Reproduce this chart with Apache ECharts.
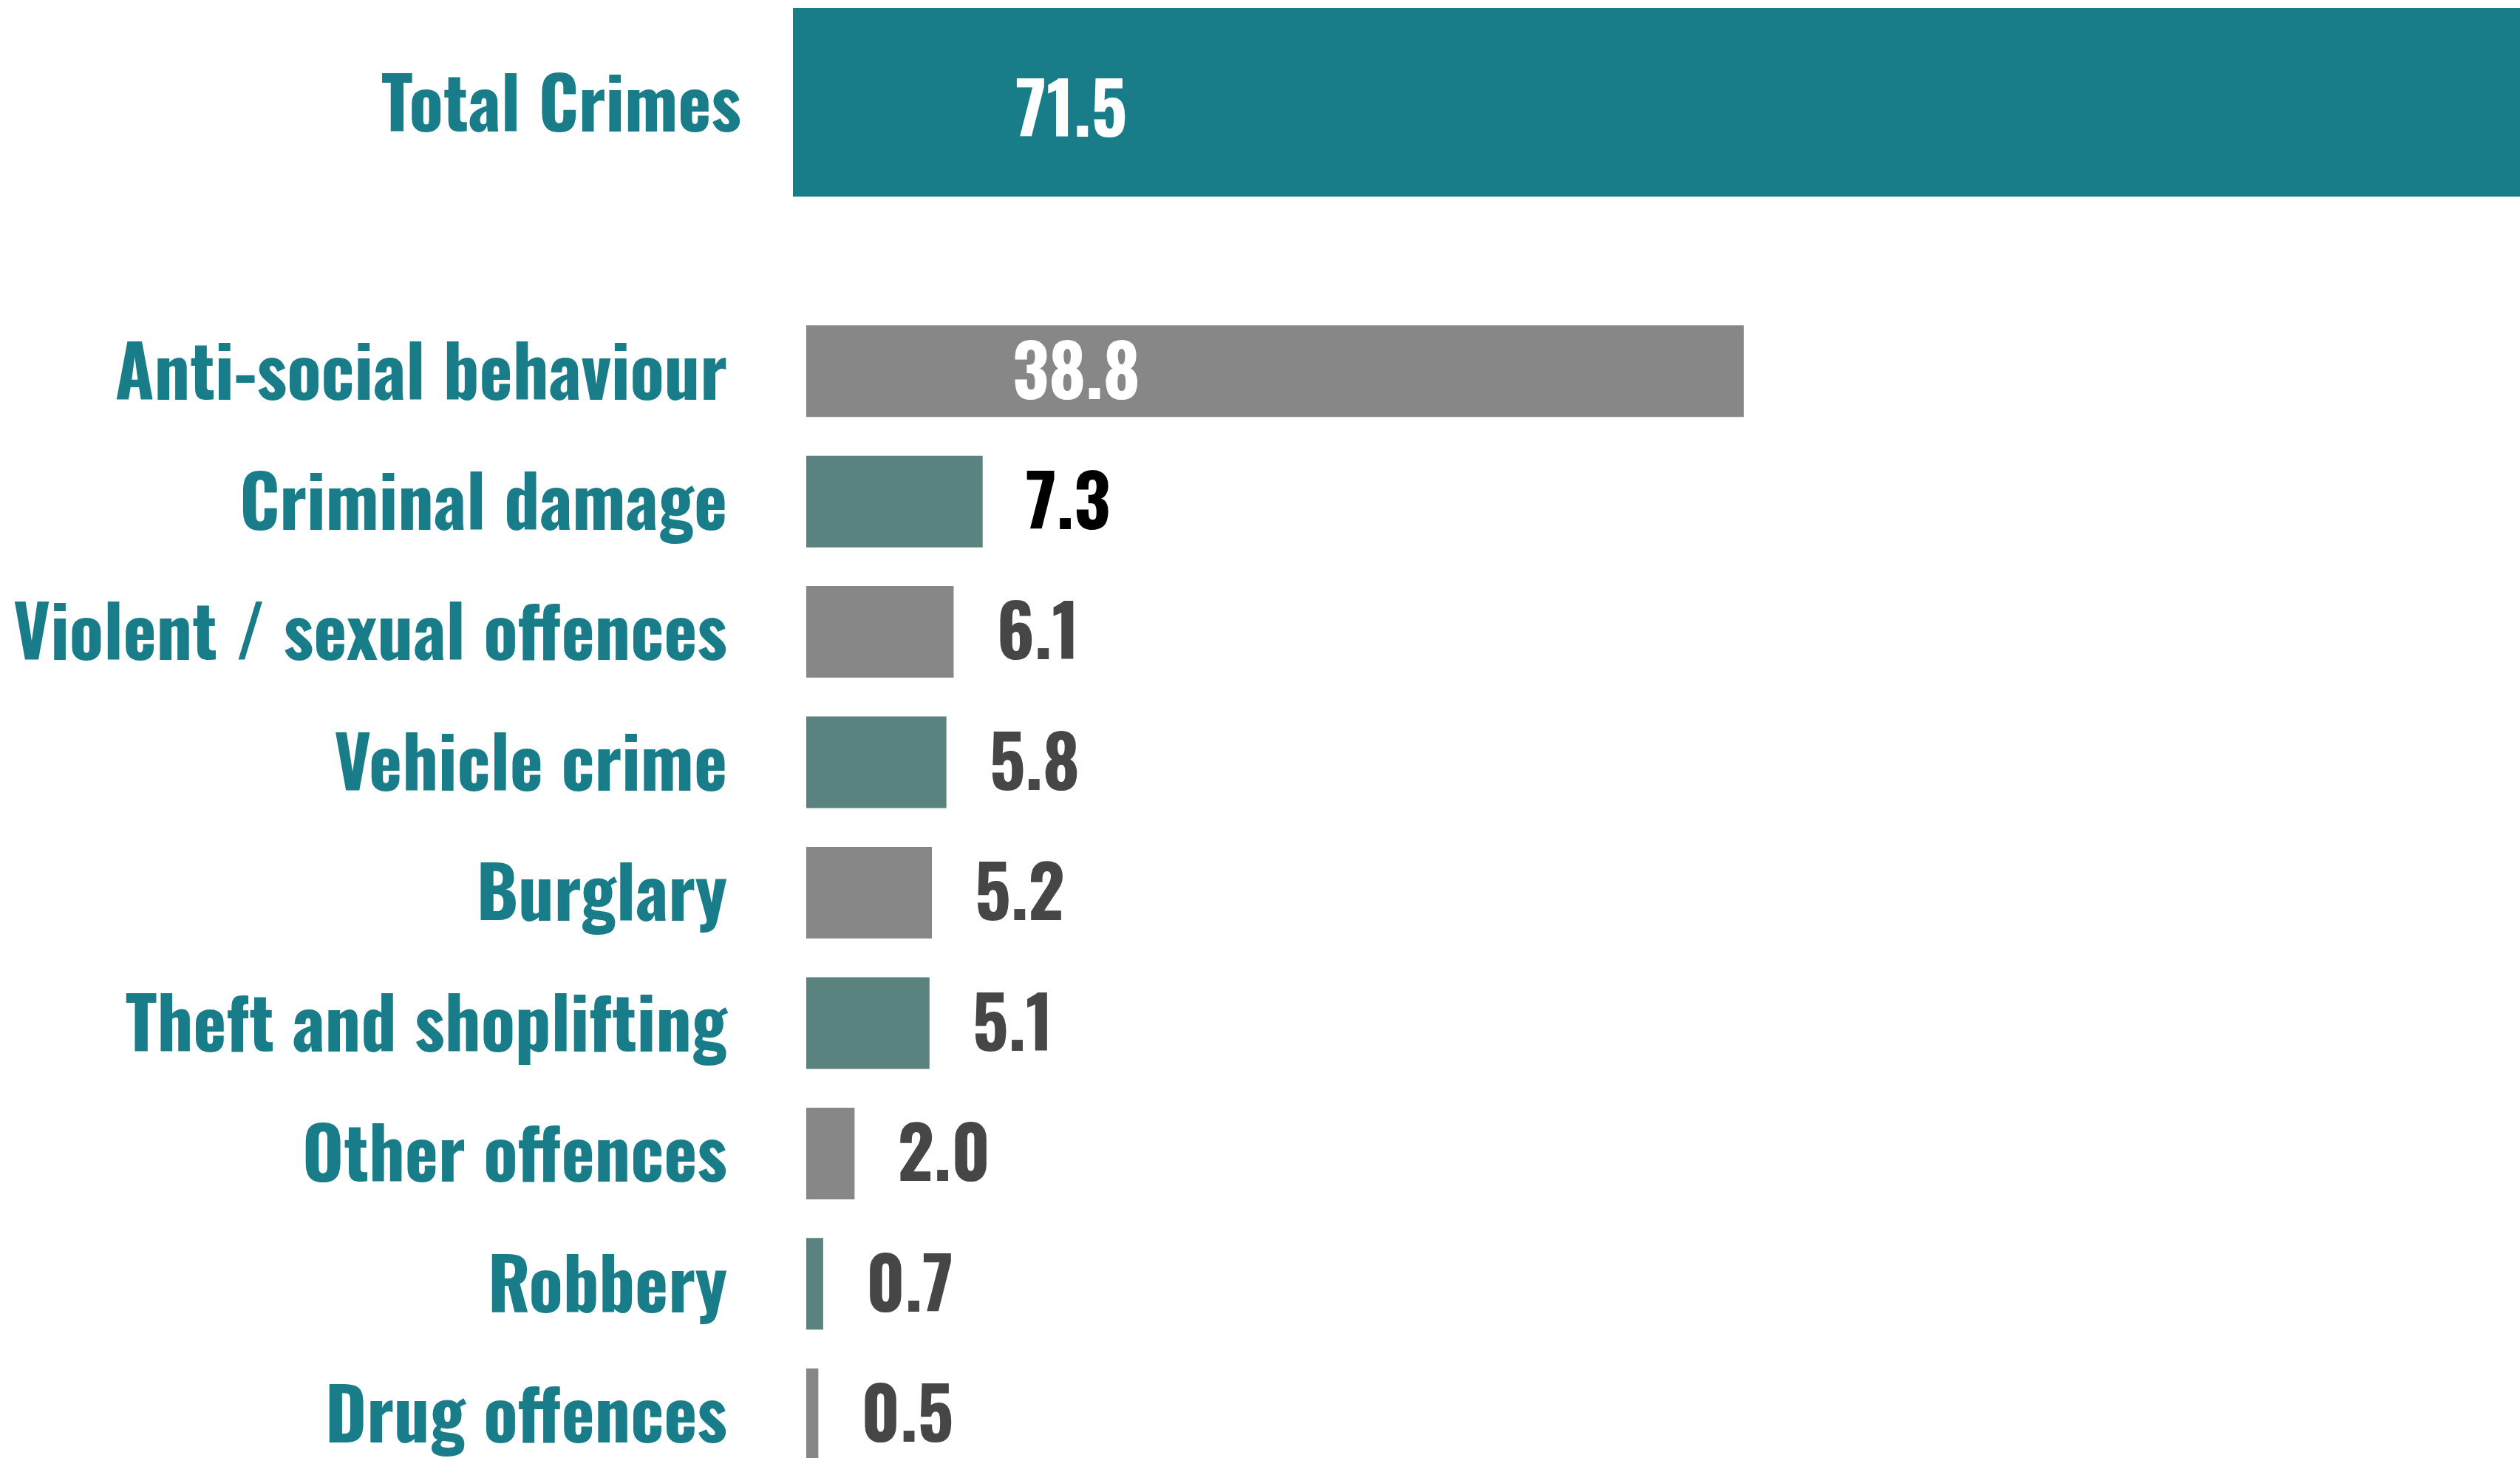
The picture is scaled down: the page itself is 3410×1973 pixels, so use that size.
<!DOCTYPE html>
<html>
<head>
<meta charset="utf-8">
<script src="https://cdn.jsdelivr.net/npm/echarts@6/dist/echarts.min.js"></script>
<style>
html,body{margin:0;padding:0;background:#fff;}
#chart{width:3410px;height:1973px;}
</style>
</head>
<body>
<div id="chart"></div>
<script>
const totalCategory = ['Total Crimes'];
const totalValue = [71.5];
const categories = ['Anti-social behaviour','Criminal damage','Violent / sexual offences','Vehicle crime','Burglary','Theft and shoplifting','Other offences','Robbery','Drug offences'];
const values = [38.8, 7.3, 6.1, 5.8, 5.2, 5.1, 2.0, 0.7, 0.5];

const FONT = 'Oswald, "Liberation Sans Narrow", sans-serif';
const TEAL = '#187D88';
const GRAY = '#878787';
const TEALGRAY = '#5A827F';
const DARK = '#464646';
const FS = 96;

const chart = echarts.init(document.getElementById('chart'), null, {renderer: 'canvas'});

const mainData = values.map((v, i) => {
  const inside = v > 20;
  return {
    value: v,
    itemStyle: {color: i % 2 === 0 ? GRAY : TEALGRAY},
    label: inside ? {position: 'insideLeft', distance: 279, color: '#ffffff'}
                  : {position: 'right', distance: 58, color: i === 1 ? '#000000' : DARK}
  };
});

chart.setOption({
  animation: false,
  backgroundColor: '#ffffff',
  grid: [
    {left: 1073, top: 11, width: 2337, height: 255, containLabel: false, outerBoundsMode: 'none'},
    {left: 1091, top: 414, width: 2289, height: 1588, containLabel: false, outerBoundsMode: 'none'}
  ],
  xAxis: [
    {gridIndex: 0, type: 'value', min: 0, max: 71.5, show: false},
    {gridIndex: 1, type: 'value', min: 0, max: 70, show: false}
  ],
  yAxis: [
    {gridIndex: 0, type: 'category', data: totalCategory, inverse: true,
     axisLine: {show: false}, axisTick: {show: false}, splitLine: {show: false},
     axisLabel: {margin: 70, color: TEAL, fontFamily: FONT, fontWeight: 'bold', fontSize: FS,
                 verticalAlign: 'top', lineHeight: 20}},
    {gridIndex: 1, type: 'category', data: categories, inverse: true,
     axisLine: {show: false}, axisTick: {show: false}, splitLine: {show: false},
     axisLabel: {margin: 107, color: TEAL, fontFamily: FONT, fontWeight: 'bold', fontSize: FS,
                 verticalAlign: 'top', lineHeight: 18}}
  ],
  series: [
    {type: 'bar', xAxisIndex: 0, yAxisIndex: 0, data: totalValue, barWidth: 255,
     itemStyle: {color: TEAL},
     label: {show: true, position: 'insideLeft', distance: 301, offset: [0, 17], color: '#ffffff',
             fontFamily: FONT, fontWeight: 'bold', fontSize: FS,
             formatter: p => p.value.toFixed(1)}},
    {type: 'bar', xAxisIndex: 1, yAxisIndex: 1, data: mainData, barWidth: 124,
     label: {show: true, fontFamily: FONT, fontWeight: 'bold', fontSize: FS, offset: [0, 8],
             formatter: p => p.value.toFixed(1)}}
  ]
});
</script>
</body>
</html>
